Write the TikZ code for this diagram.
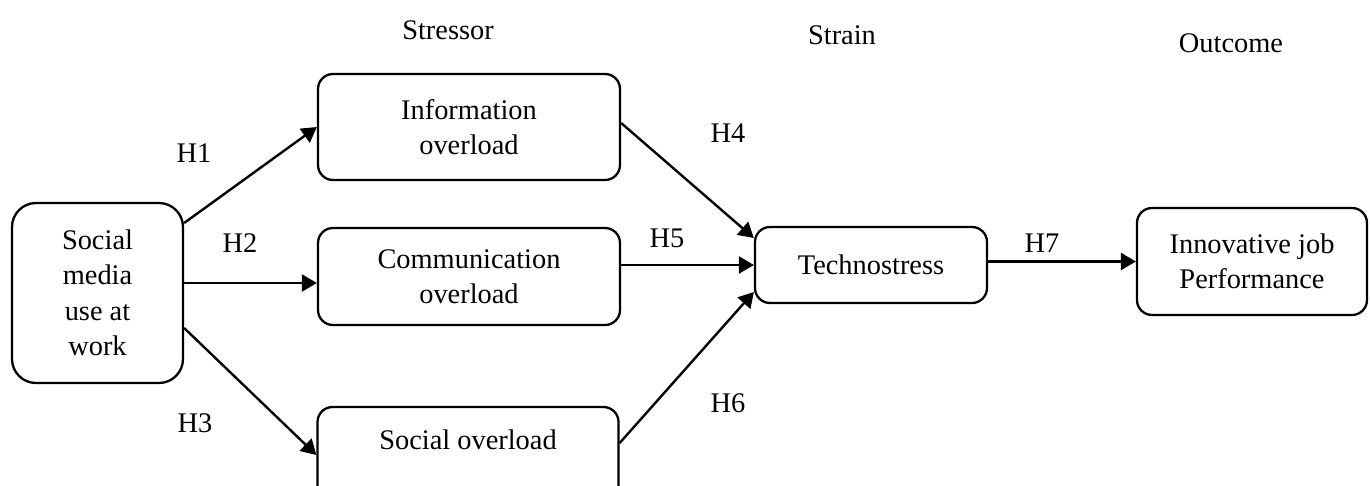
\documentclass[tikz,border=0pt]{standalone}
\usepackage{fontspec}
\setmainfont{Liberation Serif}
\usetikzlibrary{arrows.meta}

\tikzset{
  box/.style={draw=black, line width=2.3pt, rounded corners=15pt, align=center,
    inner sep=0pt, font=\fontsize{28.4}{35.5}\selectfont},
  lbl/.style={inner sep=0pt, font=\fontsize{28.4}{35.5}\selectfont},
  link/.style={line width=2.4pt, -{Triangle[length=15pt,width=17pt]}}
}

\begin{document}
\begin{tikzpicture}[x=1pt, y=-1pt]
  \useasboundingbox (0,0) rectangle (1370,485);
  \clip (0,0) rectangle (1370,485);

  % column headings
  \node[lbl] (hstressor) at (448,30) {Stressor};
  \node[lbl] (hstrain)   at (842,35) {Strain};
  \node[lbl] (houtcome)  at (1231,43) {Outcome};

  % constructs
  \node[box, rounded corners=24pt, minimum width=171pt, minimum height=180pt]
    (sm) at (97.5,293) {Social\\media\\use at\\work};
  \node[box, minimum width=302pt, minimum height=106pt]
    (info) at (469,127) {Information\\overload};
  \node[box, minimum width=302pt, minimum height=97pt]
    (comm) at (469,276.5) {Communication\\overload};
  \node[box, minimum width=301pt, minimum height=100pt, text depth=34pt]
    (social) at (468,457) {Social overload};
  \node[box, minimum width=232pt, minimum height=76pt]
    (techno) at (871,265) {Technostress};
  \node[box, minimum width=230pt, minimum height=107pt]
    (innov) at (1252,261.5) {Innovative job\\Performance};

  % hypothesised paths
  \draw[link] ([yshift=70pt]sm.east) -- (info.west);
  \draw[link] ([yshift=10pt]sm.east) -- ([yshift=-6.5pt]comm.west);
  \draw[link] ([yshift=-35pt]sm.east) -- ([yshift=2pt]social.west);
  \draw[link] ([yshift=4pt]info.east) -- ([yshift=27pt]techno.west);
  \draw[link] ([yshift=11.5pt]comm.east) -- (techno.west);
  \draw[link] ([yshift=14pt]social.east) -- ([yshift=-27pt]techno.west);
  \draw[link] ([yshift=3.5pt]techno.east) -- ([yshift=3.5pt]techno.east -| innov.west);

  % path labels
  \node[lbl] (h1) at (194,153) {H1};
  \node[lbl] (h2) at (240,243) {H2};
  \node[lbl] (h3) at (195,423) {H3};
  \node[lbl] (h4) at (728,133) {H4};
  \node[lbl] (h5) at (667,238) {H5};
  \node[lbl] (h6) at (728,403) {H6};
  \node[lbl] (h7) at (1042,243) {H7};
\end{tikzpicture}
\end{document}
